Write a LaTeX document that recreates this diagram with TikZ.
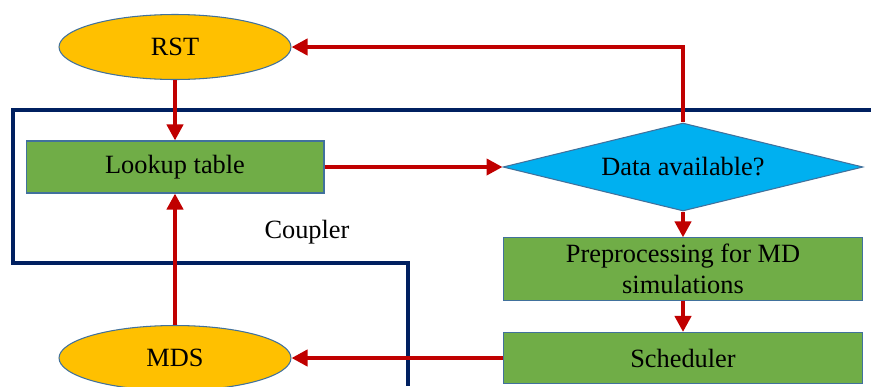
\documentclass[tikz,border=0pt]{standalone}
\usepackage{fontspec}
\setmainfont{Liberation Serif}
\usepackage{tikz}
\usetikzlibrary{arrows.meta,positioning,shapes.geometric}
\definecolor{cplorange}{HTML}{FFC000}
\definecolor{cplgreen}{HTML}{70AD47}
\definecolor{cplcyan}{HTML}{00B0F0}
\definecolor{cplred}{HTML}{C00000}
\definecolor{cplnavy}{HTML}{002060}
\definecolor{cpledge}{HTML}{41719C}

\begin{document}
\begin{tikzpicture}[
  x=0.02cm,y=-0.02cm,
  code/.style={draw=cpledge,ellipse,minimum width=4.64cm,minimum height=1.3cm,fill=cplorange,font=\fontsize{15}{17}\selectfont,line width=0.6pt},
  task/.style={draw=cpledge,rectangle,minimum width=5.96cm,minimum height=1.04cm,fill=cplgreen,font=\fontsize{15}{17}\selectfont,align=center,line width=0.6pt},
  query/.style={draw=cpledge,diamond,aspect=4,inner sep=0pt,minimum width=7.2cm,minimum height=1.76cm,fill=cplcyan,font=\fontsize{15}{17}\selectfont,line width=0.6pt},
  arr/.style={-{Triangle[length=0.32cm,width=0.32cm]},line width=2.4pt,cplred},
  frame/.style={line width=2pt,cplnavy}
]
\useasboundingbox (0,0) rectangle (871,386);

% Coupler boundary
\coordinate (fA) at (871,110);
\coordinate (fB) at (13,110);
\coordinate (fC) at (13,263);
\coordinate (fD) at (408,263);
\coordinate (fE) at (408,386);
\draw[frame] (fA) -- (fB) -- (fC) -- (fD) -- (fE);
\node[font=\fontsize{15}{17}\selectfont] (coupler) at (307,232) {Coupler};

% Left column
\node[code] (rst) at (175,47) {RST};
\node[task] (lookup) at (175,167) {Lookup table};
\node[code] (mds) at (175,358) {MDS};

% Right column
\node[query] (avail) at (683,167) {Data available?};
\node[task,minimum width=7.18cm,minimum height=1.24cm] (prep) at (683,269) {Preprocessing for MD\\[1pt]simulations};
\node[task,minimum width=7.18cm,minimum height=1.02cm] (sched) at (683,358) {Scheduler};

% Arrows
\draw[arr] (rst) -- (lookup);
\draw[arr] (lookup) -- (avail);
\draw[arr] (avail) -- (prep);
\draw[arr] (prep) -- (sched);
\draw[arr] (sched) -- (mds);
\draw[arr] (mds) -- (lookup);
\draw[arr] (avail.north) |- (rst.east);

\end{tikzpicture}
\end{document}
